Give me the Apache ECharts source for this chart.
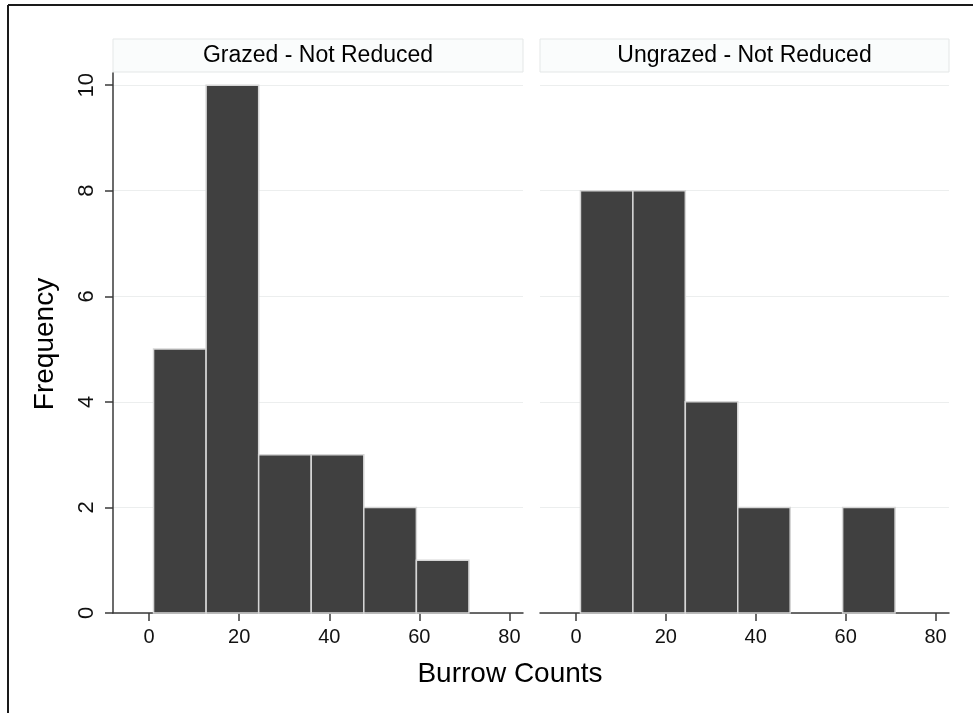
<!DOCTYPE html>
<html>
<head>
<meta charset="utf-8">
<script src="https://cdn.jsdelivr.net/npm/echarts@6/dist/echarts.min.js"></script>
<style>
  html, body { margin: 0; padding: 0; background: #fff; }
  #chart { width: 973px; height: 713px; }
</style>
</head>
<body>
<div id="chart"></div>
<script>
// histogram bins (start .. end), shared by both panels
var binEdges = [1, 12.667, 24.333, 36, 47.667, 59.333, 71];
var grazedFreq = [5, 10, 3, 3, 2, 1];
var ungrazedFreq = [8, 8, 4, 2, 0, 2];
var panelTitles = ['Grazed - Not Reduced', 'Ungrazed - Not Reduced'];
var xTicks = [0, 20, 40, 60, 80];
var yTicks = [0, 2, 4, 6, 8, 10];

function toBins(freq) {
  var out = [];
  for (var i = 0; i < freq.length; i++) {
    out.push([binEdges[i], binEdges[i + 1], freq[i]]);
  }
  return out;
}

function renderBin(params, api) {
  if (!api.value(2)) return null;
  var p0 = api.coord([api.value(0), api.value(2)]);
  var p1 = api.coord([api.value(1), 0]);
  return {
    type: 'rect',
    shape: { x: p0[0], y: p0[1], width: p1[0] - p0[0], height: p1[1] - p0[1] },
    style: { fill: '#404040', stroke: '#d6d6d6', lineWidth: 1.5 }
  };
}

var font = 'Liberation Sans, Arial, Helvetica, sans-serif';
var grids = [
  { left: 113, top: 73, width: 410, height: 540 },
  { left: 540, top: 73, width: 409, height: 540 }
];

function xAxisFor(i) {
  return {
    type: 'value', gridIndex: i, min: -8, max: 83,
    axisLine: { show: true, onZero: false, lineStyle: { color: '#3a3a3a', width: 1.5 } },
    axisTick: { show: true, length: 8, customValues: xTicks, lineStyle: { color: '#3a3a3a', width: 1.5 } },
    axisLabel: { customValues: xTicks, color: '#111', fontSize: 20, fontFamily: font, margin: 14 },
    splitLine: { show: false }
  };
}

function yAxisFor(i) {
  var visible = i === 0;
  return {
    type: 'value', gridIndex: i, min: 0, max: 10.23,
    axisLine: { show: visible, onZero: false, lineStyle: { color: '#3a3a3a', width: 1.5 } },
    axisTick: { show: visible, length: 8, customValues: yTicks, lineStyle: { color: '#3a3a3a', width: 1.5 } },
    axisLabel: { show: visible, customValues: yTicks, rotate: 90, color: '#111', fontSize: 22, fontFamily: font, margin: 15 },
    splitLine: { show: true, lineStyle: { color: '#eceeee', width: 1 } }
  };
}

var graphics = [
  { type: 'line', shape: { x1: 8, y1: 5, x2: 973, y2: 5 }, style: { stroke: '#1a1a1a', lineWidth: 2 } },
  { type: 'line', shape: { x1: 8, y1: 5, x2: 8, y2: 713 }, style: { stroke: '#1a1a1a', lineWidth: 2 } },
  {
    type: 'text', x: 45, y: 344, rotation: Math.PI / 2,
    style: { text: 'Frequency', fontSize: 28, fontFamily: font, fill: '#000', align: 'center', verticalAlign: 'middle' }
  },
  {
    type: 'text', x: 510, y: 674,
    style: { text: 'Burrow Counts', fontSize: 28, fontFamily: font, fill: '#000', align: 'center', verticalAlign: 'middle' }
  }
];
grids.forEach(function (g, i) {
  graphics.push({
    type: 'rect', shape: { x: g.left, y: 39, width: g.width, height: 33 },
    style: { fill: '#fafcfc', stroke: '#e4e7e7', lineWidth: 1 }
  });
  graphics.push({
    type: 'text', x: g.left + g.width / 2, y: 56,
    style: { text: panelTitles[i], fontSize: 23, fontFamily: font, fill: '#000', align: 'center', verticalAlign: 'middle' }
  });
});

var chart = echarts.init(document.getElementById('chart'));
var option = {
  backgroundColor: '#fff',
  animation: false,
  grid: grids,
  xAxis: [xAxisFor(0), xAxisFor(1)],
  yAxis: [yAxisFor(0), yAxisFor(1)],
  graphic: graphics,
  series: [
    { type: 'custom', xAxisIndex: 0, yAxisIndex: 0, renderItem: renderBin, encode: { x: [0, 1], y: 2 }, data: toBins(grazedFreq) },
    { type: 'custom', xAxisIndex: 1, yAxisIndex: 1, renderItem: renderBin, encode: { x: [0, 1], y: 2 }, data: toBins(ungrazedFreq) }
  ]
};
chart.setOption(option);
</script>
</body>
</html>
